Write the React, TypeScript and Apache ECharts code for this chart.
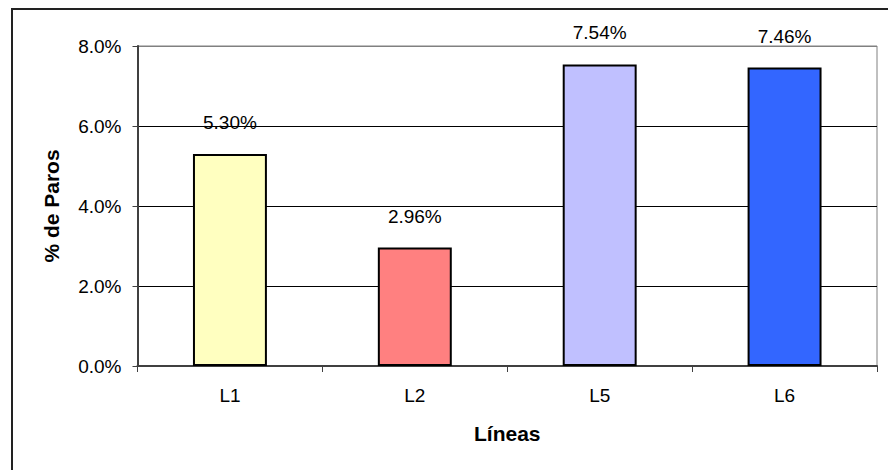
import React, { useEffect, useRef } from "react";
import * as echarts from "echarts";

// Stop percentage per production line
const lines = ["L1", "L2", "L5", "L6"];
const stopPct = [5.3, 2.96, 7.54, 7.46];
const barColors = ["#FFFFC0", "#FF8080", "#C0C0FF", "#3366FF"];
const yTicks = { min: 0, max: 8, interval: 2 };

const FONT = "'Liberation Sans', Arial, sans-serif";

export default function App() {
  const ref = useRef<HTMLDivElement>(null);

  useEffect(() => {
    if (!ref.current) return;
    const chart = echarts.init(ref.current, null, { renderer: "svg" });
    chart.setOption({
      animation: false,
      backgroundColor: "#ffffff",
      textStyle: { fontFamily: FONT },
      graphic: [
        {
          type: "rect",
          shape: { x: 12, y: 9, width: 900, height: 500 },
          style: { fill: "none", stroke: "#222", lineWidth: 2 },
          silent: true,
          z: 0,
        },
      ],
      grid: {
        left: 137.5,
        right: 11,
        top: 46,
        bottom: 104,
        show: true,
        borderColor: "#808080",
        borderWidth: 1,
        backgroundColor: "transparent",
      },
      xAxis: {
        type: "category",
        data: lines,
        name: "Líneas",
        nameLocation: "middle",
        nameGap: 57,
        nameTextStyle: { fontFamily: FONT, fontSize: 21, fontWeight: "bold", color: "#000" },
        axisLine: { show: true, lineStyle: { color: "#404040", width: 2 } },
        axisTick: { show: true, length: 6, alignWithLabel: false, lineStyle: { color: "#404040", width: 1 } },
        axisLabel: { fontFamily: FONT, fontSize: 19, color: "#000", margin: 20 },
        splitLine: { show: false },
      },
      yAxis: {
        type: "value",
        min: yTicks.min,
        max: yTicks.max,
        interval: yTicks.interval,
        name: "% de Paros",
        nameLocation: "middle",
        nameGap: 76,
        nameRotate: 90,
        nameTextStyle: { fontFamily: FONT, fontSize: 21, fontWeight: "bold", color: "#000" },
        axisLine: { show: true, lineStyle: { color: "#404040", width: 2 } },
        axisTick: { show: true, length: 5, lineStyle: { color: "#404040", width: 1 } },
        axisLabel: {
          fontFamily: FONT,
          fontSize: 19,
          color: "#000",
          margin: 16,
          formatter: (v: number) => v.toFixed(1) + "%",
        },
        splitLine: {
          show: true,
          lineStyle: { color: ["#000", "#000", "#000", "#000", "#808080"], width: 1 },
        },
      },
      series: [
        {
          type: "bar",
          barWidth: "40%",
          data: stopPct.map((v, i) => ({
            value: v,
            itemStyle: { color: barColors[i], borderColor: "#000", borderWidth: 2 },
          })),
          label: {
            show: true,
            position: "top",
            distance: 22,
            fontFamily: FONT,
            fontSize: 19,
            color: "#000",
            formatter: (p: any) => Number(p.value).toFixed(2) + "%",
          },
        },
      ],
    });
    return () => chart.dispose();
  }, []);

  return (
    <div
      ref={ref}
      style={{ position: "fixed", left: 0, top: 0, width: 888, height: 470 }}
    />
  );
}
